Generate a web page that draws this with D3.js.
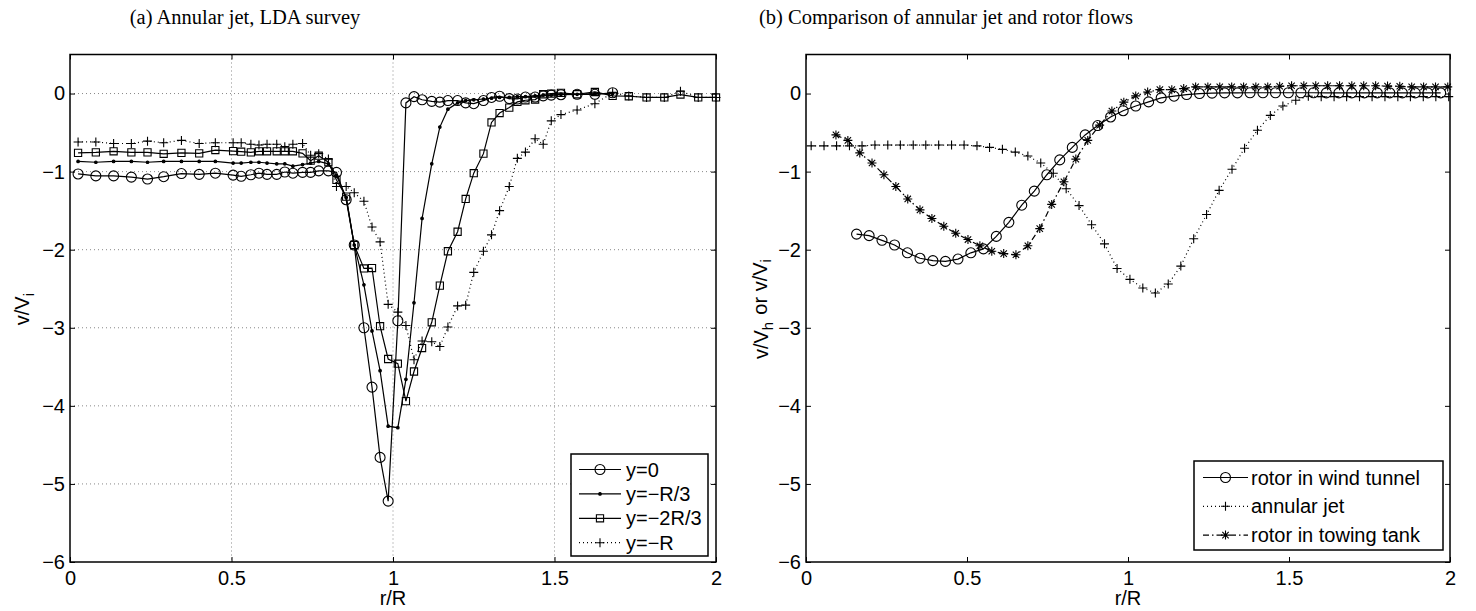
<!DOCTYPE html>
<html lang="en">
<head>
<meta charset="utf-8">
<title>Annular jet and rotor flows</title>
<script src="https://cdn.jsdelivr.net/npm/d3@7/dist/d3.min.js"></script>
<style>
  body { margin: 0; background: #fff; }
  text { fill: #000; }
</style>
</head>
<body>
<script>
/* (a) annular jet, LDA survey: four traverses */
var rA = [0.025, 0.08, 0.135, 0.19, 0.24, 0.29, 0.345, 0.40, 0.45, 0.505,
          0.53, 0.56, 0.585, 0.61, 0.64, 0.665, 0.69, 0.72, 0.745, 0.77,
          0.80, 0.825, 0.855, 0.88, 0.91, 0.935, 0.96, 0.985, 1.015, 1.04,
          1.065, 1.09, 1.12, 1.145, 1.17, 1.2, 1.225, 1.25, 1.28, 1.305,
          1.33, 1.36, 1.385, 1.41, 1.44, 1.465, 1.49, 1.52, 1.57, 1.625,
          1.68, 1.73, 1.785, 1.84, 1.89, 1.945, 2.0];
var vY0 = [-1.03, -1.055, -1.055, -1.07, -1.095, -1.065, -1.025, -1.035, -1.02, -1.045,
           -1.06, -1.04, -1.02, -1.035, -1.035, -1.005, -1.02, -1.01, -1.01, -0.99,
           -0.99, -1.01, -1.36, -1.94, -3.0, -3.76, -4.66, -5.22, -2.91, -0.12,
           -0.04, -0.08, -0.10, -0.11, -0.09, -0.09, -0.12, -0.13, -0.09, -0.05,
           -0.035, -0.065, -0.07, -0.045, -0.045, -0.03, -0.02, -0.015, -0.01, -0.01,
           0.01];
var vYR3 = [-0.87, -0.88, -0.87, -0.87, -0.88, -0.87, -0.87, -0.87, -0.87, -0.89,
            -0.89, -0.88, -0.88, -0.89, -0.90, -0.90, -0.93, -0.91, -0.89, -0.87,
            -0.90, -1.05, -1.33, -1.94, -2.45, -3.04, -3.55, -4.26, -4.28, -3.66,
            -2.68, -1.6, -0.9, -0.43, -0.20, -0.12, -0.09, -0.08, -0.07, -0.06,
            -0.05, -0.05, -0.04, -0.04, -0.03, -0.02, -0.02, -0.01, -0.01, 0.0,
            0.0];
var vY2R3 = [-0.76, -0.754, -0.74, -0.754, -0.754, -0.772, -0.76, -0.766, -0.724, -0.737,
             -0.745, -0.754, -0.74, -0.74, -0.74, -0.74, -0.74, -0.766, -0.86, -0.796,
             -0.88, -1.107, -1.32, -1.94, -2.24, -2.235, -2.98, -3.4, -3.46, -3.94,
             -3.56, -3.26, -2.93, -2.46, -2.02, -1.77, -1.35, -1.02, -0.77, -0.37,
             -0.25, -0.18, -0.107, -0.086, -0.077, -0.009, 0.0, 0.008, -0.009, 0.02,
             -0.03, -0.035, -0.05, -0.05, -0.013, -0.05, -0.05];
var vYR = [-0.62, -0.62, -0.64, -0.64, -0.61, -0.63, -0.60, -0.64, -0.63, -0.63,
           -0.63, -0.65, -0.66, -0.65, -0.65, -0.68, -0.65, -0.64, -0.79, -0.77,
           -0.84, -1.19, -1.19, -1.27, -1.38, -1.71, -1.90, -2.70, -2.80, -2.97,
           -3.41, -3.17, -3.18, -3.24, -2.99, -2.72, -2.71, -2.29, -2.02, -1.81,
           -1.50, -1.19, -0.83, -0.75, -0.58, -0.65, -0.35, -0.27, -0.21, -0.13,
           0.01, -0.03, -0.05, -0.05, 0.03, -0.05, -0.05];

/* (b) comparison of annular jet and rotor flows */
var rWT = [0.157, 0.196, 0.236, 0.275, 0.315, 0.354, 0.394, 0.433, 0.472, 0.512,
           0.551, 0.591, 0.630, 0.670, 0.709, 0.748, 0.788, 0.827, 0.867, 0.906,
           0.946, 0.985, 1.024, 1.064, 1.103, 1.143, 1.182, 1.222, 1.261, 1.300,
           1.340, 1.379, 1.419, 1.458, 1.498, 1.537, 1.576, 1.616, 1.655, 1.695,
           1.734, 1.774, 1.813, 1.852, 1.892, 1.931, 1.971];
var vWT = [-1.80, -1.82, -1.88, -1.94, -2.04, -2.11, -2.14, -2.15, -2.12, -2.04,
           -1.99, -1.83, -1.65, -1.43, -1.25, -1.04, -0.85, -0.69, -0.53, -0.41,
           -0.30, -0.22, -0.16, -0.107, -0.056, -0.034, -0.013, 0.0, 0.005, 0.008,
           0.008, 0.01, 0.01, 0.01, 0.01, 0.01, 0.01, 0.008, 0.008, 0.008,
           0.008, 0.008, 0.008, 0.008, 0.008, 0.008, 0.008];
var rAJ = [0.016, 0.056, 0.095, 0.135, 0.174, 0.214, 0.254, 0.293, 0.333, 0.372,
           0.412, 0.452, 0.491, 0.531, 0.570, 0.610, 0.650, 0.689, 0.729, 0.768,
           0.808, 0.848, 0.887, 0.927, 0.966, 1.006, 1.046, 1.085, 1.125, 1.164,
           1.204, 1.244, 1.283, 1.323, 1.362, 1.402, 1.442, 1.481, 1.521, 1.560,
           1.600, 1.640, 1.679, 1.719, 1.758, 1.798, 1.838, 1.877, 1.917, 1.956,
           1.996];
var vAJ = [-0.67, -0.67, -0.67, -0.67, -0.67, -0.66, -0.66, -0.66, -0.66, -0.66,
           -0.66, -0.66, -0.66, -0.67, -0.69, -0.715, -0.75, -0.80, -0.89, -1.02,
           -1.22, -1.435, -1.68, -1.925, -2.24, -2.38, -2.49, -2.555, -2.44, -2.21,
           -1.86, -1.55, -1.24, -0.97, -0.70, -0.47, -0.28, -0.16, -0.085, -0.035,
           -0.04, -0.04, -0.04, -0.04, -0.04, -0.04, -0.04, -0.04, -0.04, -0.04,
           -0.04];
var rTT = [0.093, 0.130, 0.167, 0.205, 0.242, 0.279, 0.316, 0.354, 0.391, 0.428,
           0.465, 0.503, 0.540, 0.577, 0.614, 0.652, 0.689, 0.726, 0.763, 0.801,
           0.838, 0.875, 0.912, 0.950, 0.987, 1.024, 1.061, 1.099, 1.136, 1.173,
           1.210, 1.248, 1.285, 1.322, 1.359, 1.397, 1.434, 1.471, 1.508, 1.546,
           1.583, 1.620, 1.657, 1.695, 1.732, 1.769, 1.806, 1.844, 1.881, 1.918,
           1.955, 1.993];
var vTT = [-0.53, -0.60, -0.76, -0.89, -1.04, -1.19, -1.35, -1.49, -1.60, -1.70,
           -1.79, -1.87, -1.95, -2.02, -2.05, -2.065, -1.95, -1.73, -1.42, -1.13,
           -0.84, -0.60, -0.405, -0.224, -0.11, -0.03, 0.02, 0.05, 0.05, 0.064,
           0.085, 0.085, 0.085, 0.085, 0.085, 0.085, 0.085, 0.093, 0.10, 0.10,
           0.10, 0.10, 0.10, 0.10, 0.10, 0.10, 0.095, 0.093, 0.085, 0.085,
           0.085, 0.085];

var xTicks = [0, 0.5, 1, 1.5, 2];
var xTickLabels = ["0", "0.5", "1", "1.5", "2"];
var yTicks = [-6, -5, -4, -3, -2, -1, 0];
var yTickLabels = ["\u22126", "\u22125", "\u22124", "\u22123", "\u22122", "\u22121", "0"];
var legendA = ["y=0", "y=\u2212R/3", "y=\u22122R/3", "y=\u2212R"];
var legendB = ["rotor in wind tunnel", "annular jet", "rotor in towing tank"];

var SANS = "'Liberation Sans', Arial, Helvetica, sans-serif";
var SERIF = "'Liberation Serif', 'Times New Roman', serif";

var svg = d3.select("body").append("svg")
    .attr("width", 1476).attr("height", 611)
    .style("display", "block");

var top_ = 54.5, bottom = 562;

/* marker outlines, centred on 0,0 */
var markers = {
    circle: "M5,0A5,5 0 1,1 -5,0A5,5 0 1,1 5,0Z",
    square: "M-3.6,-3.6H3.6V3.6H-3.6Z",
    plus: "M-4.5,0H4.5M0,-4.5V4.5",
    star: "M-4.5,0H4.5M0,-4.5V4.5M-3.2,-3.2L3.2,3.2M-3.2,3.2L3.2,-3.2",
    dot: "M1.3,0A1.3,1.3 0 1,1 -1.3,0A1.3,1.3 0 1,1 1.3,0Z"
};
var dashes = { solid: null, dotted: "1,3", dashdot: "6,3,1.5,3" };

function drawMarker(g, x, y, kind) {
    g.append("path")
        .attr("transform", "translate(" + x + "," + y + ")")
        .attr("d", markers[kind])
        .attr("fill", kind == "dot" ? "#000" : "none")
        .attr("stroke", "#000")
        .attr("stroke-width", 1.1);
}

function drawPanel(p) {
    var x = d3.scaleLinear().domain([0, 2]).range([p.x0, p.x1]);
    var y = d3.scaleLinear().domain([-6, 0.5]).range([bottom, top_]);
    var g = svg.append("g");

    /* grid */
    if (p.grid) {
        g.selectAll(".gx").data([0.5, 1, 1.5]).enter().append("line")
            .attr("x1", d => x(d)).attr("x2", d => x(d))
            .attr("y1", top_).attr("y2", bottom)
            .attr("stroke", "#888").attr("stroke-dasharray", "1,3");
        g.selectAll(".gy").data([-5, -4, -3, -2, -1, 0]).enter().append("line")
            .attr("x1", p.x0).attr("x2", p.x1)
            .attr("y1", d => y(d)).attr("y2", d => y(d))
            .attr("stroke", "#888").attr("stroke-dasharray", "1,3");
    }

    /* series */
    var line = d3.line().x(d => x(d[0])).y(d => y(d[1]));
    p.series.forEach(function(s) {
        var pts = s.v.map((v, i) => [s.r[i], v]);
        g.append("path").datum(pts)
            .attr("d", line)
            .attr("fill", "none").attr("stroke", "#000").attr("stroke-width", 1.2)
            .attr("stroke-dasharray", dashes[s.dash]);
        pts.forEach(d => drawMarker(g, x(d[0]), y(d[1]), s.marker));
    });

    /* axes, ticks pointing inwards on all four sides */
    var ax = g.append("g").attr("transform", "translate(0," + bottom + ")")
        .call(d3.axisBottom(x).tickValues(xTicks)
            .tickFormat((d, i) => xTickLabels[i])
            .tickSizeInner(-5).tickSizeOuter(0).tickPadding(9));
    var ay = g.append("g").attr("transform", "translate(" + p.x0 + ",0)")
        .call(d3.axisLeft(y).tickValues(yTicks)
            .tickFormat((d, i) => yTickLabels[i])
            .tickSizeInner(-5).tickSizeOuter(0).tickPadding(5));
    g.append("g").attr("transform", "translate(0," + top_ + ")")
        .call(d3.axisTop(x).tickValues(xTicks).tickFormat("")
            .tickSizeInner(-5).tickSizeOuter(0));
    g.append("g").attr("transform", "translate(" + p.x1 + ",0)")
        .call(d3.axisRight(y).tickValues(yTicks).tickFormat("")
            .tickSizeInner(-5).tickSizeOuter(0));
    [ax, ay].forEach(a => a.attr("font-family", SANS).attr("font-size", 20));
    g.selectAll(".domain").attr("stroke", "none");
    g.append("rect")
        .attr("x", p.x0).attr("y", top_)
        .attr("width", p.x1 - p.x0).attr("height", bottom - top_)
        .attr("fill", "none").attr("stroke", "#000").attr("stroke-width", 1.5);

    /* titles and labels */
    svg.append("text")
        .attr("x", p.titleX).attr("y", 24)
        .attr("text-anchor", "middle")
        .style("font-family", SERIF).style("font-size", "20.5px")
        .text(p.title);
    svg.append("text")
        .attr("x", (p.x0 + p.x1) / 2).attr("y", 605)
        .attr("text-anchor", "middle")
        .style("font-family", SANS).style("font-size", "20px")
        .text("r/R");
    var yl = svg.append("text")
        .attr("transform", "translate(" + p.ylabelX + "," + (top_ + bottom) / 2 + ") rotate(-90)")
        .attr("text-anchor", "middle")
        .style("font-family", SANS).style("font-size", "20px");
    p.ylabel.forEach(function(part) {
        if (part.sub) {
            yl.append("tspan").attr("dy", "0.3em").style("font-size", "15px").text(part.t);
            yl.append("tspan").attr("dy", "-0.3em").text("\u200a");
        } else {
            yl.append("tspan").text(part.t);
        }
    });

    /* legend */
    var L = p.legend;
    var lg = svg.append("g");
    lg.append("rect")
        .attr("x", L.x0).attr("y", L.y0)
        .attr("width", L.x1 - L.x0).attr("height", L.y1 - L.y0)
        .attr("fill", "#fff").attr("stroke", "#000").attr("stroke-width", 1.5);
    p.series.forEach(function(s, i) {
        var yy = L.first + i * L.step;
        lg.append("line")
            .attr("x1", L.lx0).attr("x2", L.lx1).attr("y1", yy).attr("y2", yy)
            .attr("stroke", "#000").attr("stroke-width", 1.2)
            .attr("stroke-dasharray", dashes[s.dash]);
        drawMarker(lg, (L.lx0 + L.lx1) / 2, yy, s.marker);
        lg.append("text")
            .attr("x", L.tx).attr("y", yy).attr("dy", "0.35em")
            .style("font-family", SANS).style("font-size", "20px")
            .text(L.labels[i]);
    });
}

drawPanel({
    x0: 70, x1: 716, grid: true, titleX: 245,
    title: "(a) Annular jet, LDA survey",
    ylabelX: 29,
    ylabel: [{t: "v/V"}, {t: "i", sub: true}],
    series: [
        {r: rA, v: vY0, marker: "circle", dash: "solid"},
        {r: rA, v: vYR3, marker: "dot", dash: "solid"},
        {r: rA, v: vY2R3, marker: "square", dash: "solid"},
        {r: rA, v: vYR, marker: "plus", dash: "dotted"}
    ],
    legend: {x0: 571, x1: 708, y0: 454, y1: 556, first: 469.5, step: 24.4,
             lx0: 579, lx1: 621, tx: 626, labels: legendA}
});

drawPanel({
    x0: 806, x1: 1450, grid: false, titleX: 946,
    title: "(b) Comparison of annular jet and rotor flows",
    ylabelX: 768,
    ylabel: [{t: "v/V"}, {t: "h", sub: true}, {t: " or v/V"}, {t: "i", sub: true}],
    series: [
        {r: rWT, v: vWT, marker: "circle", dash: "solid"},
        {r: rAJ, v: vAJ, marker: "plus", dash: "dotted"},
        {r: rTT, v: vTT, marker: "star", dash: "dashdot"}
    ],
    legend: {x0: 1194, x1: 1443, y0: 461, y1: 550, first: 477.5, step: 28.8,
             lx0: 1203, lx1: 1248, tx: 1251, labels: legendB}
});
</script>
</body>
</html>
